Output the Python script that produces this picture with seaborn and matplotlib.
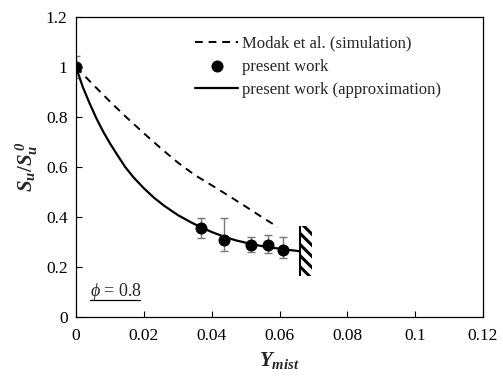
import matplotlib
matplotlib.use("Agg")
import matplotlib.pyplot as plt
import seaborn as sns
import pandas as pd

# Data
sim_x = [0.0, 0.005, 0.010, 0.015, 0.020, 0.025, 0.030, 0.035, 0.040, 0.045, 0.050, 0.055, 0.0595]
sim_y = [1.0, 0.930, 0.862, 0.797, 0.735, 0.675, 0.618, 0.568, 0.527, 0.485, 0.442, 0.398, 0.360]

approx_x = [0.0, 0.002, 0.004, 0.006, 0.008, 0.010, 0.012, 0.0145, 0.017, 0.020, 0.023,
            0.026, 0.030, 0.034, 0.037, 0.040, 0.0435, 0.047, 0.051, 0.055, 0.059, 0.063, 0.066]
approx_y = [1.0, 0.920, 0.855, 0.795, 0.742, 0.695, 0.652, 0.600, 0.558, 0.515, 0.477,
            0.445, 0.408, 0.378, 0.358, 0.340, 0.322, 0.307, 0.294, 0.283, 0.275, 0.268, 0.263]

exp_x = [0.0, 0.0368, 0.0435, 0.0515, 0.0565, 0.0610]
exp_y = [1.0, 0.355, 0.310, 0.288, 0.287, 0.270]
err_lo = [0.045, 0.040, 0.047, 0.026, 0.029, 0.035]
err_hi = [0.045, 0.043, 0.088, 0.032, 0.043, 0.050]

limit_x = [0.066, 0.0695]
limit_y = [0.164, 0.364]

xticks = [0, 0.02, 0.04, 0.06, 0.08, 0.1, 0.12]
xtick_labels = ["0", "0.02", "0.04", "0.06", "0.08", "0.1", "0.12"]
yticks = [0, 0.2, 0.4, 0.6, 0.8, 1.0, 1.2]
ytick_labels = ["0", "0.2", "0.4", "0.6", "0.8", "1", "1.2"]

sns.set_style("white")
plt.rcParams["font.family"] = ["Liberation Serif", "DejaVu Serif"]
plt.rcParams["mathtext.fontset"] = "custom"
plt.rcParams["mathtext.rm"] = "Liberation Serif"
plt.rcParams["mathtext.it"] = "Liberation Serif:italic"
plt.rcParams["mathtext.bf"] = "Liberation Serif:bold"
plt.rcParams["mathtext.bfit"] = "Liberation Serif:bold:italic"
plt.rcParams["hatch.linewidth"] = 2.2

fig = plt.figure(figsize=(5.03, 3.8), dpi=100)
ax = fig.add_axes([76 / 503, 1 - 317 / 380, 407 / 503, 300 / 380])

df_sim = pd.DataFrame({"x": sim_x, "y": sim_y})
df_app = pd.DataFrame({"x": approx_x, "y": approx_y})
df_exp = pd.DataFrame({"x": exp_x, "y": exp_y})

sns.lineplot(data=df_sim, x="x", y="y", ax=ax, color="black", lw=1.4,
             linestyle=(0, (4, 3)), label="Modak et al. (simulation)", sort=False)
ax.errorbar(exp_x, exp_y, yerr=[err_lo, err_hi], fmt="none", ecolor="#777777",
            elinewidth=1.0, capsize=3, capthick=1.0, zorder=2)
sns.scatterplot(data=df_exp, x="x", y="y", ax=ax, color="black", s=75,
                edgecolor="black", linewidth=0, label="present work", zorder=4)
sns.lineplot(data=df_app, x="x", y="y", ax=ax, color="black", lw=1.6,
             label="present work (approximation)", sort=False, zorder=3)

# flammability limit marker
ax.fill_betweenx(limit_y, limit_x[0], limit_x[1], facecolor="white",
                 edgecolor="black", hatch="\\\\\\", linewidth=0, zorder=3)
ax.vlines(limit_x[0], limit_y[0], limit_y[1], color="black", lw=1.5, zorder=4)

ax.set_xlim(0, 0.12)
ax.set_ylim(0, 1.2)
ax.set_xticks(xticks)
ax.set_xticklabels(xtick_labels)
ax.set_yticks(yticks)
ax.set_yticklabels(ytick_labels)
ax.tick_params(direction="in", length=4, width=0.8, labelsize=12.5, pad=8,
               colors="black", bottom=True, left=True)
ax.tick_params(axis="y", pad=6)
for s in ax.spines.values():
    s.set_color("black")
    s.set_linewidth(0.9)

ax.set_xlabel(r"$\mathbfit{Y}_{\mathbfit{mist}}$", fontsize=15, labelpad=4)
ax.set_ylabel(r"$\mathbfit{S}_{\mathbfit{u}}\mathbf{/}\mathbfit{S}_{\mathbfit{u}}^{\ \mathbfit{0}}$",
              fontsize=15, labelpad=4)

ax.text(0.035, 0.07, r"$\phi$ = 0.8", transform=ax.transAxes, fontsize=13,
        ha="left", va="baseline")
ax.plot([0.034, 0.157], [0.057, 0.057], transform=ax.transAxes, color="black", lw=0.9)

leg = ax.legend(loc="upper left", bbox_to_anchor=(0.292, 0.938), frameon=False,
                fontsize=12, handlelength=2.6, handletextpad=0.2, borderpad=0,
                borderaxespad=0, labelspacing=0.42, numpoints=1)

fig.savefig("out.png", dpi=100)
